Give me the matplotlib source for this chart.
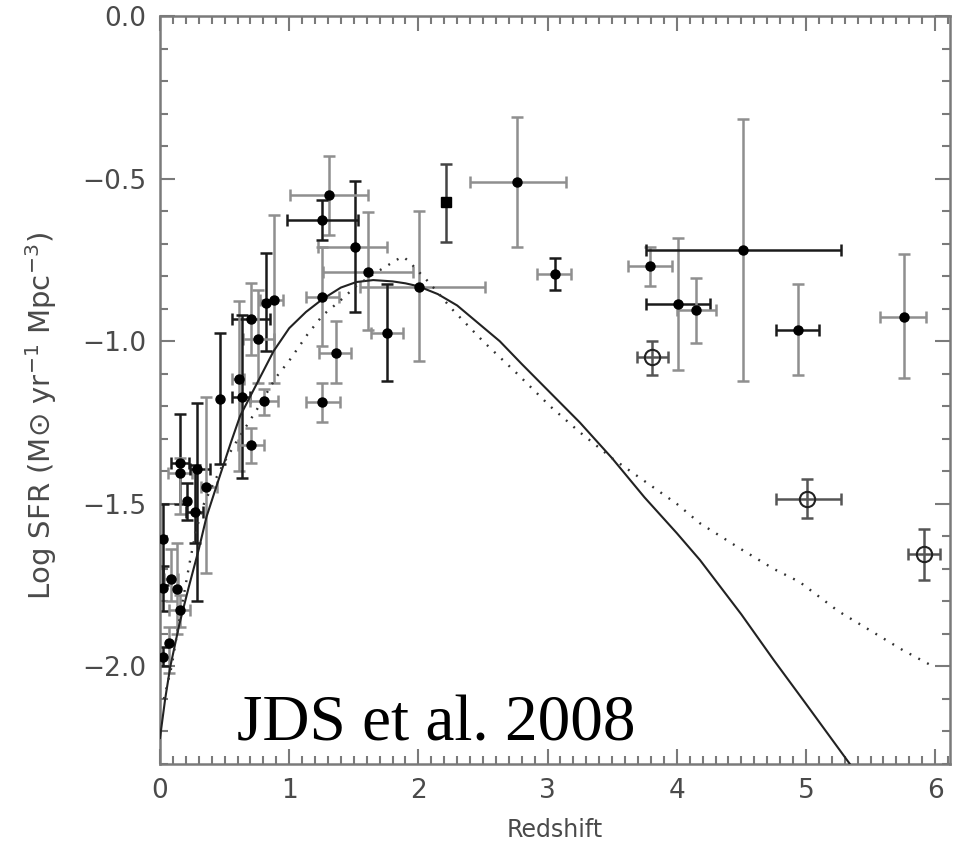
import matplotlib.pyplot as plt
import numpy as np
from matplotlib.ticker import MultipleLocator, FuncFormatter

# filled points: redshift, log SFR, redshift range, log SFR range (None = no bar)
z = [2.76, 3.055, 3.79, 4.01, 4.146, 4.51, 4.935, 5.756,
     2.007, 1.759, 1.607, 1.509, 1.308, 1.256, 1.256, 1.36, 1.256,
     0.818, 0.882, 0.707, 0.756, 0.609, 0.635, 0.807, 0.707, 0.464,
     0.155, 0.155, 0.284, 0.271, 0.356, 0.206, 0.021, 0.083, 0.021,
     0.129, 0.155, 0.072, 0.021]
sfr = [-0.51, -0.794, -0.77, -0.887, -0.905, -0.72, -0.964, -0.924,
       -0.832, -0.975, -0.786, -0.71, -0.55, -0.627, -0.864, -1.036, -1.187,
       -0.882, -0.874, -0.931, -0.993, -1.117, -1.17, -1.185, -1.319, -1.177,
       -1.373, -1.404, -1.393, -1.525, -1.447, -1.492, -1.607, -1.73, -1.759,
       -1.763, -1.828, -1.928, -1.972]
z_lo = [2.40, 2.92, 3.62, 3.76, 4.00, 3.76, 4.77, 5.57,
        1.548, 1.63, 1.264, 1.225, 1.006, 0.98, 1.128, 1.233, 1.128,
        None, 0.774, 0.555, 0.645, 0.555, 0.56, 0.697, 0.606, None,
        0.083, 0.06, 0.23, 0.20, 0.32, None, None, 0.03, None,
        None, 0.072, None, None]
z_hi = [3.14, 3.18, 3.96, 4.26, 4.30, 5.27, 5.10, 5.93,
        2.515, 1.88, 1.96, 1.755, 1.607, 1.535, 1.385, 1.478, 1.393,
        None, 0.954, 0.851, 0.882, 0.652, 0.70, 0.911, 0.807, None,
        0.225, 0.25, 0.39, 0.33, 0.44, None, None, 0.14, None,
        None, 0.232, None, None]
sfr_lo = [-0.71, -0.844, -0.83, -1.087, -1.006, -1.123, -1.105, -1.113,
          -1.062, -1.123, -0.967, -0.91, -0.673, -0.69, -1.015, -1.13, -1.249,
          -1.031, -1.13, -1.041, -1.13, -1.40, -1.42, -1.228, -1.373, -1.377,
          -1.50, -1.53, -1.80, -1.62, -1.713, -1.55, -1.75, -1.80, -1.83,
          -1.90, -1.88, -2.02, -2.0]
sfr_hi = [-0.31, -0.743, -0.71, -0.684, -0.805, -0.318, -0.823, -0.732,
          -0.601, -0.825, -0.602, -0.508, -0.431, -0.566, -0.71, -0.938, -1.129,
          -0.73, -0.612, -0.822, -0.843, -0.877, -0.92, -1.147, -1.268, -0.974,
          -1.223, -1.36, -1.19, -1.38, -1.17, -1.435, -1.50, -1.64, -1.69,
          -1.62, -1.78, -1.88, -1.94]
# bar colour: 'k' dark, 'g' grey  (x bar, y bar)
xcol = list("gggkgkkg" + "gggggkgg" + "g" + "ggkggkgg" + "g" + "kgkkg" + "kk" + "gk" + "ggg" + "k")
ycol = list("gkgggggg" + "gkgkgkggg" + "kggggkggk" + "kgkkgkkgkgggk")

# open circles
zo = [3.81, 5.01, 5.916]
sfro = [-1.049, -1.484, -1.655]
zo_lo = [3.69, 4.77, 5.79]
zo_hi = [3.93, 5.27, 6.04]
sfro_lo = [-1.103, -1.545, -1.735]
sfro_hi = [-1.0, -1.425, -1.576]

# square point
zs = [2.211]
sfrs = [-0.573]
sfrs_lo = [-0.694]
sfrs_hi = [-0.455]

# model curves
solid_z = [0.0, 0.04, 0.08, 0.15, 0.22, 0.30, 0.36, 0.45, 0.55, 0.62, 0.75, 0.88,
           1.0, 1.13, 1.26, 1.4, 1.52, 1.65, 1.8, 1.9, 2.0, 2.15, 2.3, 2.45, 2.63,
           2.8, 3.0, 3.25, 3.5, 3.75, 4.0, 4.18, 4.5, 4.75, 5.0, 5.34]
solid_y = [-2.22, -2.10, -2.00, -1.87, -1.76, -1.64, -1.54, -1.43, -1.31, -1.23,
           -1.13, -1.03, -0.96, -0.91, -0.87, -0.835, -0.818, -0.812, -0.816,
           -0.822, -0.831, -0.855, -0.89, -0.94, -1.0, -1.07, -1.15, -1.25, -1.36,
           -1.48, -1.59, -1.673, -1.84, -1.98, -2.115, -2.30]
dot_z = [0.03, 0.09, 0.14, 0.18, 0.23, 0.28, 0.34, 0.41, 0.5, 0.59, 0.75, 0.9,
         1.0, 1.14, 1.26, 1.39, 1.52, 1.65, 1.75, 1.83, 1.88, 1.93, 1.97, 2.06,
         2.15, 2.25, 2.5, 2.76, 3.02, 3.25, 3.5, 3.75, 4.0, 4.18, 4.5, 4.75,
         4.95, 5.25, 5.5, 5.75, 5.985]
dot_y = [-2.10, -2.00, -1.88, -1.79, -1.68, -1.58, -1.50, -1.44, -1.37, -1.31,
         -1.21, -1.11, -1.06, -0.98, -0.92, -0.877, -0.83, -0.794, -0.77, -0.75,
         -0.74, -0.755, -0.773, -0.81, -0.85, -0.897, -1.0, -1.098, -1.2, -1.28,
         -1.36, -1.43, -1.50, -1.56, -1.64, -1.70, -1.74, -1.83, -1.89, -1.95, -2.0]

GREY = '#8f8f8f'
DARK = '#1a1a1a'
AXC = '#7a7a7a'
TXT = '#4a4a4a'
cmap = {'k': DARK, 'g': GREY}

plt.rcParams['font.family'] = ['DejaVu Sans']
fig = plt.figure(figsize=(9.62, 8.48), dpi=100)
ax = fig.add_axes([160 / 962, 84 / 848, 790 / 962, 748 / 848])

ax.plot(solid_z, solid_y, '-', color='#222222', lw=1.5, zorder=3)
ax.plot(dot_z, dot_y, color='#333333', lw=1.7, linestyle=(0, (0.8, 3.4)), zorder=3)

for i in range(len(z)):
    if z_lo[i] is not None:
        ax.errorbar(z[i], sfr[i], xerr=[[z[i] - z_lo[i]], [z_hi[i] - z[i]]], fmt='none',
                    ecolor=cmap[xcol[i]], elinewidth=1.8, capsize=4.5, capthick=1.8, zorder=2)
    ax.errorbar(z[i], sfr[i], yerr=[[sfr[i] - sfr_lo[i]], [sfr_hi[i] - sfr[i]]], fmt='none',
                ecolor=cmap[ycol[i]], elinewidth=1.8, capsize=4.5, capthick=1.8, zorder=2)
ax.plot(z, sfr, 'o', color='black', ms=6.5, zorder=4)

ax.errorbar(zo, sfro, xerr=[np.subtract(zo, zo_lo), np.subtract(zo_hi, zo)],
            yerr=[np.subtract(sfro, sfro_lo), np.subtract(sfro_hi, sfro)], fmt='none',
            ecolor='#555555', elinewidth=1.8, capsize=4.5, capthick=1.8, zorder=2)
ax.plot(zo, sfro, 'o', mfc='none', mec='#222222', mew=1.5, ms=11, zorder=4)

ax.errorbar(zs, sfrs, yerr=[np.subtract(sfrs, sfrs_lo), np.subtract(sfrs_hi, sfrs)],
            fmt='none', ecolor='#444444', elinewidth=1.8, capsize=4.5, capthick=1.8, zorder=2)
ax.plot(zs, sfrs, 's', color='black', ms=7, zorder=4)

ax.set_xlim(0, 6.115)
ax.set_ylim(-2.3, 0.0)
ax.xaxis.set_major_locator(MultipleLocator(1))
ax.xaxis.set_minor_locator(MultipleLocator(0.1))
ax.yaxis.set_major_locator(MultipleLocator(0.5))
ax.yaxis.set_minor_locator(MultipleLocator(0.1))
ax.yaxis.set_major_formatter(FuncFormatter(lambda v, p: ('%.1f' % v).replace('-', '\u2212')))
ax.tick_params(which='both', direction='in', top=True, right=True, color=AXC,
               width=1.5, labelcolor=TXT, labelsize=19)
ax.tick_params(which='major', length=11, pad=10)
ax.tick_params(which='minor', length=5.5)
for s in ax.spines.values():
    s.set_color(AXC)
    s.set_linewidth(1.8)

ax.set_xlabel('Redshift', fontsize=17, color=TXT)
ax.xaxis.set_label_coords(0.5, -0.072)
ax.set_ylabel('Log SFR (M\u2299 yr$^{-1}$ Mpc$^{-3}$)', fontsize=21, color=TXT)
ax.yaxis.set_label_coords(-0.128, 0.465)

ax.text(0.097, 0.032, 'JDS et al. 2008', transform=ax.transAxes, ha='left', va='baseline',
        fontsize=47, family='Liberation Serif', color='black')

fig.savefig('out.png', dpi=100)
